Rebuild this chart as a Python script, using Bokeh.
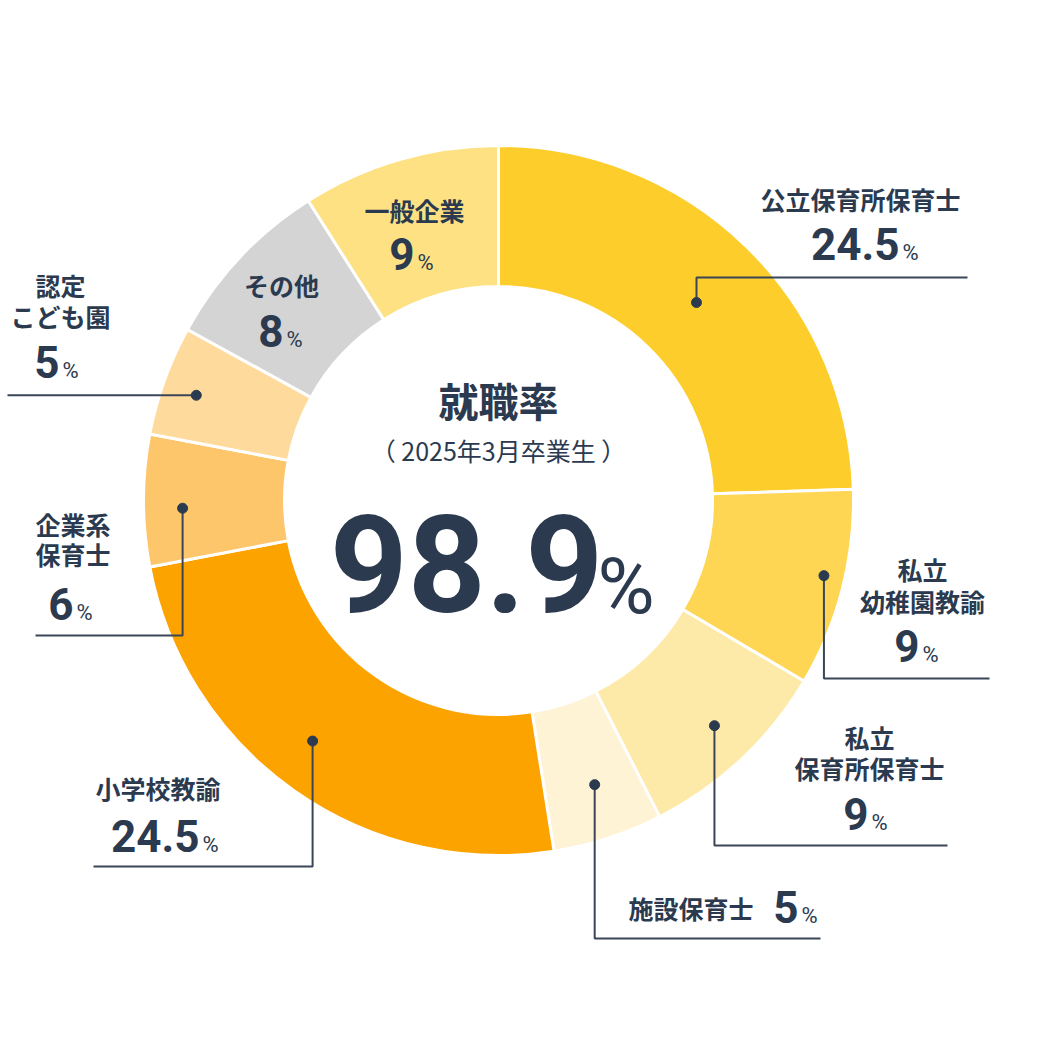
import numpy as np
from bokeh.plotting import figure
from bokeh.models import Range1d
from bokeh.core.properties import value
from bokeh.embed import file_html
from bokeh.resources import INLINE

# ---- data ----
categories = ["公立保育所保育士", "私立幼稚園教諭", "私立保育所保育士", "施設保育士",
              "小学校教諭", "企業系保育士", "認定こども園", "その他", "一般企業"]
shares = [24.5, 9, 9, 5, 24.5, 6, 5, 8, 9]
colors = ["#FDCD2C", "#FED653", "#FEEAA8", "#FFF3D6", "#FCA300",
          "#FDC66A", "#FEDA9C", "#D4D4D4", "#FEE183"]
label_lines = [["公立保育所保育士"], ["私立", "幼稚園教諭"], ["私立", "保育所保育士"],
               ["施設保育士"], ["小学校教諭"], ["企業系", "保育士"], ["認定", "こども園"],
               ["その他"], ["一般企業"]]
value_texts = ["24.5", "9", "9", "5", "24.5", "6", "5", "8", "9"]
title_text = "就職率"
subtitle_text = "（ 2025年3月卒業生 ）"
rate_text = "98.9"

INK = "#2B3A4F"
LINE = "#3A4658"
JP = value("Noto Sans CJK JP")
NUM = value("Roboto")

W = 1026
p = figure(width=W, height=W, x_range=Range1d(0, W), y_range=Range1d(0, W),
           output_backend="svg", toolbar_location=None, min_border=0,
           x_axis_type=None, y_axis_type=None)
p.grid.visible = False
p.outline_line_color = None
p.background_fill_color = "white"
p.border_fill_color = "white"


def Y(y):
    return W - y


K_NUM = 0.37   # baseline correction for numbers (fraction of font size)
K_JP = 0.12    # vertical-centre correction for CJK text


def num_y(baseline, size):
    return Y(baseline - K_NUM * size)


def jp_y(center, size):
    return Y(center - K_JP * size)


CX, CY = 498, 500
R_IN, R_OUT = 214, 355

cum = np.concatenate([[0], np.cumsum(shares)])
total = cum[-1]
start = np.pi / 2 - 2 * np.pi * cum[:-1] / total
end = np.pi / 2 - 2 * np.pi * cum[1:] / total
p.annular_wedge(x=CX, y=Y(CY), inner_radius=R_IN, outer_radius=R_OUT,
                start_angle=start, end_angle=end, direction="clock",
                fill_color=colors, line_color="white", line_width=3)

# ---- leader lines (dot near mid-angle of each slice) ----
mid = np.pi / 2 - 2 * np.pi * (cum[:-1] + cum[1:]) / 2 / total
dot_r = [280, 334, 312, 300, 304, 316, 320]
dot_shift_deg = [0.9, -1.4, -0.6, -0.7, 2.6, -1.4, -0.6]
leader = [(277, 967), (678, 989), (845, 947), (938, 820), (866, 93), (635, 35), (None, 7)]
dx, dy = [], []
for i in range(7):
    a = mid[i] - np.deg2rad(dot_shift_deg[i])
    x0 = CX + dot_r[i] * np.cos(a)
    y0 = Y(CY) + dot_r[i] * np.sin(a)
    dx.append(x0)
    dy.append(y0)
    ey, ex = leader[i]
    if ey is None:
        xs = [x0, ex]
        ys = [y0, y0]
    else:
        xs = [x0, x0, ex]
        ys = [y0, Y(ey), Y(ey)]
    p.line(xs, ys, line_color=LINE, line_width=2)
p.scatter(dx, dy, size=10, fill_color=INK, line_color=INK)

# ---- labels ----
name_pos = [
    (860, [201], "center"),
    (922, [571, 603], "center"),
    (869, [739, 770], "center"),
    (628, [910], "left"),
    (95, [790], "left"),
    (35, [526, 556], "left"),
    (60, [287, 318], "center"),
    (281, [287], "center"),
    (414, [212], "center"),
]
num_pos = [(899, 260), (919, 662), (868, 830), (798, 923), (199, 852),
           (73, 620), (59, 378), (283, 347), (414, 270)]

JP_SIZE = 25
N_SIZE = 44
P_SIZE = 22
for i in range(len(categories)):
    x, ys, align = name_pos[i]
    for line_txt, yc in zip(label_lines[i], ys):
        p.text(x=[x], y=[jp_y(yc, JP_SIZE)], text=[line_txt], text_font=JP,
               text_font_size=f"{JP_SIZE}px", text_font_style="bold", text_color=INK,
               text_align=align, text_baseline="middle")
    nx, ny = num_pos[i]
    p.text(x=[nx], y=[num_y(ny, N_SIZE)], text=[value_texts[i]], text_font=NUM,
           text_font_size=f"{N_SIZE}px", text_font_style="bold", text_color=INK,
           text_align="right", text_baseline="alphabetic")
    p.text(x=[nx + 3], y=[num_y(ny, P_SIZE)], text=["%"], text_font=NUM,
           text_font_size=f"{P_SIZE}px", text_color=INK, text_align="left",
           text_baseline="alphabetic")

# ---- centre ----
p.text(x=[CX], y=[jp_y(404, 40)], text=[title_text], text_font=JP, text_font_size="40px",
       text_font_style="bold", text_color=INK, text_align="center", text_baseline="middle")
p.text(x=[CX], y=[jp_y(452, 25)], text=[subtitle_text], text_font=JP, text_font_size="25px",
       text_color=INK, text_align="center", text_baseline="middle")
p.text(x=[466], y=[num_y(613, 136)], text=[rate_text], text_font=NUM, text_font_size="136px",
       text_font_style="bold", text_color=INK, text_align="center",
       text_baseline="alphabetic")
p.text(x=[597], y=[num_y(615, 78)], text=["%"], text_font=NUM, text_font_size="78px",
       text_color=INK, text_align="left", text_baseline="alphabetic")

open("out.html", "w").write(file_html(p, INLINE))
